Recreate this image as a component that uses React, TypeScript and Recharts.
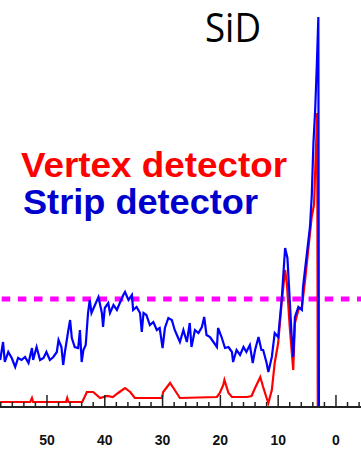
import { Line, LineChart, ReferenceLine, XAxis, YAxis } from "recharts";

// depth axis (reversed), counts
const stripDepth = [
  58.1, 57.6, 57.3, 56.7, 56.1, 55.5, 55.0, 54.4, 53.8, 53.2, 52.6, 52.4, 51.8, 51.2, 50.6, 50.1,
  49.5, 48.9, 48.3, 48.0, 47.5, 47.2, 46.9, 46.3, 46.0, 45.7, 45.2, 44.6, 44.3, 44.0, 43.7, 43.3,
  42.9, 42.6, 42.3, 41.7, 41.1, 40.5, 40.3, 40.0, 39.4, 39.1, 38.5, 37.9, 37.4, 36.8, 36.5, 35.9,
  35.3, 35.1, 34.5, 33.9, 33.6, 33.3, 32.8, 32.2, 31.6, 31.0, 30.5, 30.0, 29.6, 29.0, 28.4, 27.9,
  27.3, 27.0, 26.4, 25.8, 25.3, 25.0, 24.4, 23.8, 23.2, 22.8, 22.4, 21.8, 21.2, 20.6, 20.4, 19.8,
  19.2, 18.6, 18.0, 17.8, 17.2, 16.6, 16.0, 15.5, 14.9, 14.4, 14.0, 13.4, 12.9, 12.6, 12.0, 11.7,
  11.1, 10.6, 10.0, 9.4, 8.8, 8.4, 8.0, 7.7, 7.4, 7.1, 6.5, 5.9, 5.7, 5.1, 4.5, 4.2, 3.9, 3.6,
  3.3, 3.05, 2.95, 0,
];
const stripRate = [
  47, 65, 45, 55, 49, 40, 49, 47, 50, 44, 59, 47, 60, 47, 49, 55,
  47, 50, 55, 67, 60, 42, 55, 77, 87, 69, 60, 59, 77, 45, 57, 62,
  94, 107, 94, 102, 110, 94, 80, 99, 104, 94, 102, 97, 104, 112, 115, 107,
  112, 97, 100, 94, 75, 94, 92, 82, 85, 77, 79, 59, 79, 89, 87, 77,
  69, 65, 77, 65, 84, 60, 77, 74, 80, 90, 72, 70, 65, 60, 79, 70,
  59, 60, 55, 45, 57, 52, 60, 55, 62, 44, 57, 70, 57, 57, 44, 35,
  50, 74, 70, 107, 159, 149, 107, 74, 50, 90, 100, 97, 120, 150, 180, 210, 264, 297,
  344, 390, 0, 0,
];

const vertexDepth = [
  58.1, 52.9, 52.6, 52.4, 46.7, 46.5, 46.3, 43.9, 43.1, 42.0, 40.8, 39.6, 38.6, 37.7, 36.5, 35.6,
  34.8, 30.1, 29.9, 28.7, 27.9, 27.0, 20.6, 20.1, 19.5, 19.3, 18.6, 18.0, 15.4, 14.6, 14.0, 13.1,
  12.6, 12.0, 11.7, 11.1, 10.6, 10.0, 9.4, 8.8, 8.5, 8.0, 7.4, 7.1, 6.5, 5.9, 5.4, 4.8,
  4.2, 3.8, 3.25, 3.15, 0,
];
const vertexRate = [
  5, 5, 9, 5, 5, 9, 5, 5, 15, 15, 9, 11, 10, 14, 19, 15,
  9, 9, 15, 24, 17, 9, 10, 14, 22, 27, 14, 10, 10, 11, 19, 30,
  20, 9, 4, 17, 44, 64, 104, 137, 124, 80, 37, 84, 97, 100, 124, 157,
  190, 202, 294, 0, 0,
];

const depthTicks = [-4, -2, 0, 2, 4, 6, 8, 10, 12, 14, 16, 18, 20, 22, 24, 26, 28, 30, 32, 34, 36, 38, 40, 42, 44, 46, 48, 50, 52, 54, 56, 58];
const threshold = 108;

const stripData = stripDepth.map((x, i) => ({ x, y: stripRate[i] }));
const vertexData = vertexDepth.map((x, i) => ({ x, y: vertexRate[i] }));

const W = 361;
const H = 449;
const AXIS_Y = 407;

function DepthTick(props: any) {
  const { x, payload } = props;
  const v = Number(payload.value);
  const major = v % 10 === 0;
  return (
    <g>
      <line x1={x} x2={x} y1={AXIS_Y} y2={AXIS_Y - (major ? 12 : 5)} stroke="#222" strokeWidth={1.5} />
      {major && v >= 0 && (
        <text
          x={x}
          y={445}
          textAnchor="middle"
          fontFamily="Liberation Sans, Arial, sans-serif"
          fontWeight="bold"
          fontSize={14}
          fill="#111"
        >
          {v}
        </text>
      )}
    </g>
  );
}

export default function App() {
  return (
    <div style={{ position: "absolute", left: 0, top: 0, width: W, height: H, background: "#fff" }}>
      <LineChart width={W} height={H} margin={{ top: 7, right: 0, left: 0, bottom: 0 }}>
        <XAxis
          type="number"
          dataKey="x"
          reversed
          domain={[-4.33, 58.13]}
          allowDataOverflow
          ticks={depthTicks}
          interval={0}
          height={42}
          tickLine={false}
          axisLine={{ stroke: "#222", strokeWidth: 2 }}
          tick={<DepthTick />}
        />
        <YAxis type="number" domain={[0, 400]} hide allowDataOverflow />
        <ReferenceLine
          y={threshold}
          stroke="#ff00ff"
          strokeWidth={5}
          strokeDasharray="8.5 7.65"
          strokeDashoffset={14.45}
        />
        <Line
          data={vertexData}
          dataKey="y"
          type="linear"
          stroke="#ff0000"
          strokeWidth={2.2}
          dot={false}
          isAnimationActive={false}
        />
        <Line
          data={stripData}
          dataKey="y"
          type="linear"
          stroke="#0000ff"
          strokeWidth={2.2}
          dot={false}
          isAnimationActive={false}
        />
      </LineChart>
      <svg width={W} height={H} style={{ position: "absolute", left: 0, top: 0, pointerEvents: "none" }}>
        <text x={205} y={42} fontFamily="Open Sans, DejaVu Sans, sans-serif" fontSize={40} fill="#000" textLength={56} lengthAdjust="spacingAndGlyphs">
          SiD
        </text>
        <text x={21} y={177} fontFamily="Liberation Sans, Arial, sans-serif" fontWeight="bold" fontSize={35} fill="#ff0000" textLength={266} lengthAdjust="spacingAndGlyphs">
          Vertex detector
        </text>
        <text x={23} y={214} fontFamily="Liberation Sans, Arial, sans-serif" fontWeight="bold" fontSize={35} fill="#0000cc" textLength={235} lengthAdjust="spacingAndGlyphs">
          Strip detector
        </text>
      </svg>
    </div>
  );
}
